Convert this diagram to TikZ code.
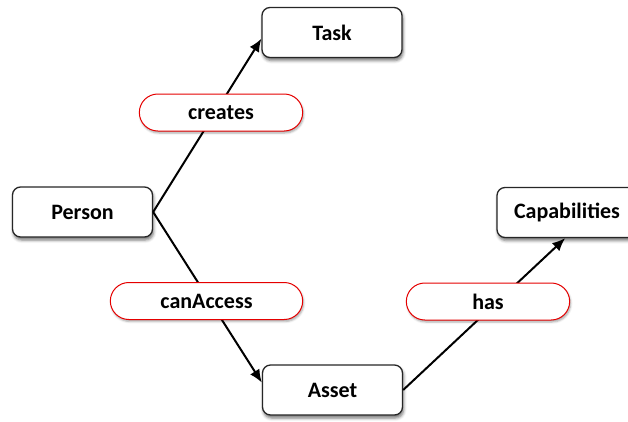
\documentclass[tikz,border=0pt]{standalone}
\usepackage{fontspec}
\setmainfont{Carlito}
\usetikzlibrary{arrows.meta,shapes.misc,shadows.blur}
\tikzset{
    entity/.style={draw=black!85, line width=1.3pt, fill=white, rounded corners=8pt,
        minimum width=140pt, minimum height=50pt, font=\fontsize{22}{26}\selectfont\bfseries,
        blur shadow={shadow xshift=1pt, shadow yshift=-3pt, shadow blur radius=3pt, shadow opacity=55}},
    relation/.style={draw=red!90!black, line width=1pt, fill=white, rounded rectangle,
        minimum height=37pt, font=\fontsize{22}{26}\selectfont\bfseries,
        blur shadow={shadow xshift=1pt, shadow yshift=-2pt, shadow blur radius=2pt, shadow opacity=35}},
    link/.style={->, line width=2pt},
}
\begin{document}
\begin{tikzpicture}[x=1pt, y=-1pt, >={Latex[length=13pt,width=11pt]}]
\useasboundingbox (0,0) rectangle (628,421);
\node[entity] (task) at (332,32.5) {Task};
\node[entity] (person) at (82.5,212) {Person};
\node[entity] (asset) at (332.5,390) {Asset};
\node[entity] (capab) at (567,212.5) {Capabilities};
\draw[link] (person.east) -- (task.185);
\draw[link] (person.east) -- (asset.174);
\draw[link] (asset.east) -- (capab.266);
\node[relation, minimum width=170pt] (creates) at (221,112.5) {creates};
\node[relation, minimum width=199pt] (canaccess) at (206.5,301) {canAccess};
\node[relation, minimum width=170pt] (has) at (488,301.5) {has};
\end{tikzpicture}
\end{document}
